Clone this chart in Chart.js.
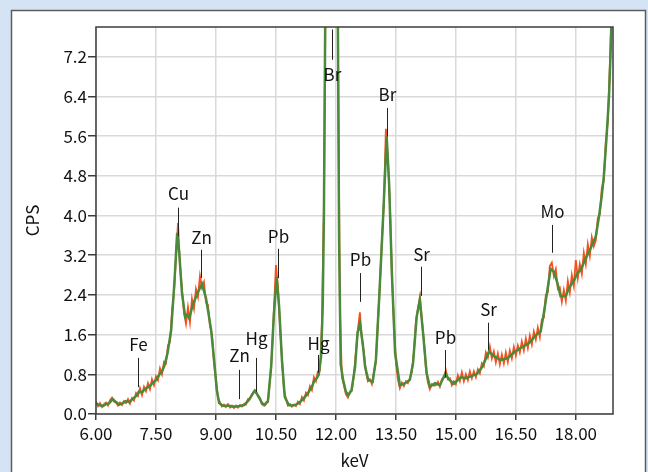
<!DOCTYPE html>
<html>
<head>
<meta charset="utf-8">
<script src="https://cdn.jsdelivr.net/npm/chart.js@4/dist/chart.umd.min.js"></script>
<style>
  html, body { margin: 0; padding: 0; background: #d5e4f5; }
  #wrap { position: relative; width: 648px; height: 472px; }
</style>
</head>
<body>
<div id="wrap"><canvas id="chart" width="648" height="472"></canvas></div>
<script>
// Smoothed spectrum (green)
const smoothKeV = [
  6.00, 6.08, 6.17, 6.25, 6.33, 6.42, 6.50, 6.58, 6.67, 6.75, 6.83, 6.92, 7.00, 7.07, 7.15, 7.25,
  7.33, 7.42, 7.50, 7.58, 7.65, 7.71, 7.79, 7.88, 7.96, 8.03, 8.08, 8.15, 8.23, 8.28, 8.33, 8.42,
  8.54, 8.65, 8.75, 8.88, 8.96, 9.02, 9.08, 9.15, 9.21, 9.30, 9.40, 9.50, 9.60, 9.70, 9.82, 9.90,
  9.97, 10.07, 10.15, 10.22, 10.30, 10.38, 10.45, 10.52, 10.58, 10.65, 10.72, 10.82, 10.90, 10.98,
  11.07, 11.15, 11.24, 11.32, 11.40, 11.45, 11.52, 11.57, 11.63, 11.67, 11.70, 11.73, 11.78, 11.85,
  11.92, 11.98, 12.02, 12.05, 12.08, 12.12, 12.18, 12.25, 12.31, 12.39, 12.48, 12.54, 12.60, 12.67,
  12.73, 12.81, 12.92, 13.00, 13.08, 13.17, 13.27, 13.33, 13.40, 13.48, 13.60, 13.73, 13.85, 13.93,
  14.02, 14.10, 14.18, 14.27, 14.35, 14.48, 14.60, 14.67, 14.74, 14.82, 14.95, 15.12, 15.25, 15.37,
  15.53, 15.66, 15.83, 15.96, 16.12, 16.29, 16.45, 16.62, 16.83, 17.00, 17.12, 17.20, 17.29, 17.37,
  17.45, 17.54, 17.62, 17.75, 17.83, 17.96, 18.04, 18.12, 18.25, 18.37, 18.50, 18.58, 18.65, 18.70,
  18.77, 18.83, 18.87, 18.90
];
const smoothCps = [
  0.21, 0.18, 0.16, 0.20, 0.22, 0.30, 0.24, 0.19, 0.22, 0.26, 0.24, 0.31, 0.36, 0.45, 0.44, 0.52,
  0.55, 0.63, 0.68, 0.79, 0.86, 0.97, 1.23, 1.69, 2.64, 3.65, 3.27, 2.44, 1.96, 2.00, 1.93, 2.20,
  2.44, 2.62, 2.34, 1.69, 1.03, 0.49, 0.22, 0.18, 0.16, 0.17, 0.15, 0.15, 0.16, 0.18, 0.28, 0.38,
  0.47, 0.35, 0.22, 0.18, 0.26, 0.95, 2.03, 2.76, 2.16, 1.09, 0.35, 0.18, 0.17, 0.18,
  0.22, 0.28, 0.36, 0.45, 0.55, 0.65, 0.72, 0.79, 1.16, 2.16, 4.0, 7.6, 15, 32,
  40, 30, 15, 7.8, 3.5, 1.0, 0.69, 0.45, 0.38, 0.48, 0.95, 1.63, 1.83, 1.43,
  0.95, 0.69, 0.65, 1.09, 2.30, 3.78, 5.59, 4.65, 2.84, 1.23, 0.58, 0.62, 0.69, 1.03,
  1.96, 2.30, 1.63, 0.82, 0.55, 0.62, 0.58, 0.70, 0.82, 0.70, 0.61, 0.74, 0.72, 0.76,
  0.81, 0.95, 1.26, 1.16, 1.09, 1.12, 1.24, 1.33, 1.43, 1.59, 1.66, 2.03, 2.50, 2.92,
  2.87, 2.64, 2.37, 2.38, 2.54, 2.70, 2.84, 2.90, 3.14, 3.34, 3.58, 3.98, 4.40, 4.79,
  5.59, 6.40, 7.27, 8.2
];

// Raw counts (red), one value per 0.05 keV channel starting at 6.00 keV
const rawStartKeV = 6.00;
const rawStepKeV = 0.05;
const rawCps = [
  0.25, 0.16, 0.22, 0.14, 0.20, 0.23, 0.17, 0.28, 0.33, 0.25,
  0.23, 0.17, 0.23, 0.18, 0.26, 0.22, 0.30, 0.21, 0.32, 0.27,
  0.42, 0.36, 0.52, 0.38, 0.55, 0.46, 0.62, 0.50, 0.70, 0.58,
  0.76, 0.68, 0.92, 0.80, 1.05, 1.02, 1.38, 1.45, 2.05, 2.45,
  3.15, 3.85, 3.00, 2.52, 2.05, 1.82, 2.15, 1.85, 2.32, 2.12,
  2.52, 2.36, 2.78, 2.55, 2.66, 2.25, 2.20, 1.78, 1.60, 1.05,
  0.70, 0.32, 0.24, 0.15, 0.19, 0.14, 0.20, 0.13, 0.17, 0.12,
  0.17, 0.13, 0.18, 0.15, 0.20, 0.19, 0.30, 0.31, 0.40, 0.46,
  0.48, 0.35, 0.32, 0.20, 0.17, 0.23, 0.24, 0.66, 1.20, 2.10,
  3.00, 2.55, 1.80, 1.12, 0.50, 0.30, 0.17, 0.20, 0.15, 0.19,
  0.16, 0.25, 0.20, 0.34, 0.27, 0.43, 0.38, 0.56, 0.48, 0.74,
  0.66, 0.86, 0.88, 1.80, 4.2, 9.5, 21, 33, 41, 34,
  18.5, 7.6, 2.1, 0.75, 0.58, 0.40, 0.33, 0.45, 0.47, 0.80,
  1.25, 1.70, 2.05, 1.50, 1.24, 0.85, 0.66, 0.70, 0.60, 0.84,
  1.05, 1.85, 2.60, 3.50, 4.25, 5.75, 5.15, 4.25, 2.80, 1.85,
  1.05, 0.70, 0.52, 0.63, 0.56, 0.66, 0.62, 0.72, 0.85, 1.25,
  1.85, 2.12, 2.36, 1.90, 1.48, 0.92, 0.64, 0.50, 0.60, 0.57,
  0.58, 0.65, 0.55, 0.70, 0.73, 0.88, 0.70, 0.72, 0.58, 0.66,
  0.60, 0.78, 0.66, 0.84, 0.66, 0.80, 0.68, 0.86, 0.72, 0.86,
  0.74, 0.90, 0.82, 1.02, 0.96, 1.24, 1.14, 1.36, 1.12, 1.26,
  1.04, 1.22, 1.00, 1.20, 1.02, 1.24, 1.05, 1.28, 1.12, 1.35,
  1.18, 1.38, 1.24, 1.46, 1.28, 1.52, 1.33, 1.58, 1.40, 1.66,
  1.50, 1.74, 1.55, 1.90, 1.94, 2.40, 2.45, 2.98, 3.05, 2.78,
  2.92, 2.52, 2.55, 2.26, 2.50, 2.28, 2.68, 2.45, 2.80, 2.58,
  3.10, 2.74, 3.02, 2.82, 3.25, 3.02, 3.42, 3.18, 3.56, 3.38,
  3.50, 3.95, 4.02, 4.55, 4.70, 5.50, 5.90, 7.00, 8.30
];

// Peak labels: element, energy, label centre and leader line ends (in CPS)
const peakNames    = ['Fe', 'Cu', 'Zn', 'Zn', 'Hg', 'Pb', 'Hg', 'Br', 'Pb', 'Br', 'Sr', 'Pb', 'Sr', 'Mo'];
const peakKeV      = [7.05, 8.04, 8.63, 9.58, 9.99, 10.54, 11.54, 11.89, 12.60, 13.27, 14.12, 14.73, 15.80, 17.40];
const peakTextCps  = [1.39, 4.44, 3.55, 1.17, 1.53, 3.57, 1.43, 6.84, 3.11, 6.43, 3.21, 1.55, 2.10, 4.09];
const peakLineTop  = [1.13, 4.16, 3.31, 0.89, 1.13, 3.33, 1.19, 7.75, 2.84, 6.17, 2.97, 1.29, 1.84, 3.81];
const peakLineBot  = [0.54, 3.58, 2.74, 0.30, 0.45, 2.74, 0.83, 7.14, 2.26, 5.59, 2.38, 0.73, 1.29, 3.25];

const xTicksStep = 1.5;
const yTicksStep = 0.8;

const FONT = "'Noto Sans CJK JP', 'Liberation Sans', sans-serif";

const rawPoints = rawCps.map((v, i) => ({ x: rawStartKeV + i * rawStepKeV, y: v }));
const smoothPoints = smoothKeV.map((k, i) => ({ x: k, y: smoothCps[i] }));

// Panel background and frame
const panelPlugin = {
  id: 'panel',
  beforeDraw(chart) {
    const ctx = chart.ctx;
    ctx.save();
    ctx.fillStyle = '#d5e4f5';
    ctx.fillRect(0, 0, chart.width, chart.height);
    ctx.fillStyle = '#ffffff';
    ctx.fillRect(11, 10, 635, 480);
    ctx.strokeStyle = '#5c5c5c';
    ctx.lineWidth = 1.5;
    ctx.strokeRect(11.5, 10.5, 634, 480);
    ctx.restore();
  },
  afterDatasetsDraw(chart) {
    const { ctx, chartArea: a, scales } = chart;
    ctx.save();
    // plot frame
    ctx.strokeStyle = '#3c3c3c';
    ctx.lineWidth = 1.5;
    ctx.strokeRect(a.left, a.top, a.right - a.left, a.bottom - a.top);
    // element markers
    ctx.font = '17px ' + FONT;
    ctx.textAlign = 'center';
    ctx.textBaseline = 'middle';
    ctx.fillStyle = '#111';
    ctx.strokeStyle = '#222';
    ctx.lineWidth = 1;
    peakNames.forEach((name, i) => {
      const x = Math.round(scales.x.getPixelForValue(peakKeV[i])) + 0.5;
      ctx.beginPath();
      ctx.moveTo(x, scales.y.getPixelForValue(peakLineTop[i]));
      ctx.lineTo(x, scales.y.getPixelForValue(peakLineBot[i]));
      ctx.stroke();
      ctx.fillText(name, x, scales.y.getPixelForValue(peakTextCps[i]));
    });
    ctx.restore();
  }
};

new Chart(document.getElementById('chart'), {
  type: 'line',
  data: {
    datasets: [
      {
        label: 'raw',
        data: rawPoints,
        borderColor: '#f4511e',
        borderWidth: 1.8,
        pointRadius: 0,
        tension: 0,
        order: 2,
        clip: 0
      },
      {
        label: 'smooth',
        data: smoothPoints,
        borderColor: '#4b8a3a',
        borderWidth: 2.5,
        pointRadius: 0,
        tension: 0,
        order: 1,
        clip: 0
      }
    ]
  },
  options: {
    responsive: false,
    animation: false,
    events: [],
    layout: { padding: { left: 20, top: 27, right: 35, bottom: 0 } },
    plugins: { legend: { display: false }, tooltip: { enabled: false } },
    scales: {
      x: {
        type: 'linear',
        min: 6,
        max: 18.93,
        afterFit: s => { s.height = 58; },
        border: { display: false },
        grid: { color: '#d9d9d9', lineWidth: 1.5, tickLength: 6, tickColor: '#3c3c3c', tickWidth: 1.5 },
        ticks: {
          stepSize: xTicksStep,
          includeBounds: false,
          autoSkip: false,
          maxRotation: 0,
          padding: 3,
          color: '#111',
          font: { family: FONT, size: 17 },
          callback: v => Number(v).toFixed(2)
        },
        title: {
          display: true,
          text: 'keV',
          color: '#111',
          font: { family: FONT, size: 17 },
          padding: { top: 0, bottom: 1 }
        }
      },
      y: {
        min: 0,
        max: 7.8,
        afterFit: s => { s.width = 76; },
        border: { display: false },
        grid: { color: '#d9d9d9', lineWidth: 1.5, tickLength: 8, tickColor: '#3c3c3c', tickWidth: 1.5 },
        ticks: {
          stepSize: yTicksStep,
          includeBounds: false,
          padding: 1,
          color: '#111',
          font: { family: FONT, size: 17 },
          callback: v => Number(v).toFixed(1)
        },
        title: {
          display: true,
          text: 'CPS',
          color: '#111',
          font: { family: FONT, size: 17 },
          padding: { top: 2, bottom: 0 }
        }
      }
    }
  },
  plugins: [panelPlugin]
});
</script>
</body>
</html>
